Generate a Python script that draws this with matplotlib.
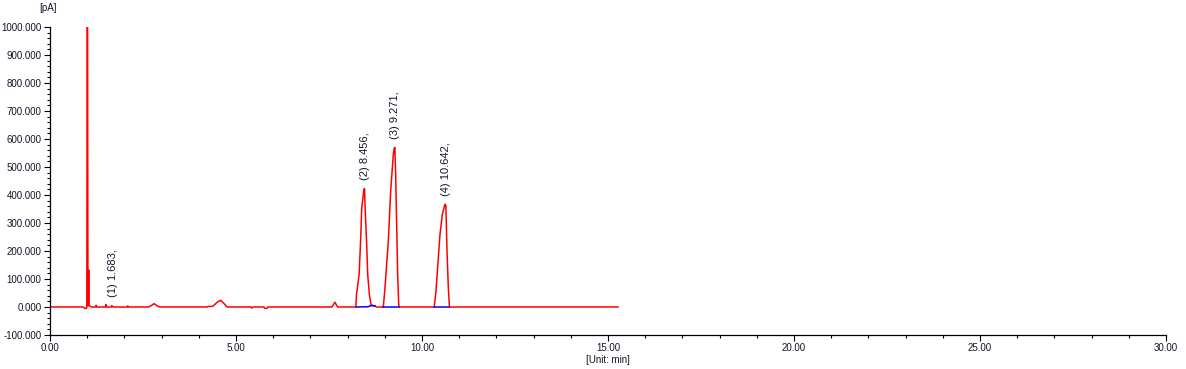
import matplotlib.pyplot as plt
from matplotlib.ticker import MultipleLocator, FormatStrFormatter

# chromatogram trace (min, pA)
time = [0.00, 0.90, 0.93, 0.98, 0.99, 1.00, 1.01, 1.02, 1.03, 1.04, 1.05, 1.08, 1.12,
        1.23, 1.24, 1.26, 1.49, 1.50, 1.52, 1.65, 1.66, 1.69, 2.08, 2.09, 2.11,
        2.65, 2.72, 2.80, 2.88, 2.95, 4.22, 4.25, 4.36, 4.40, 4.50, 4.59, 4.68, 4.76,
        5.40, 5.42, 5.45, 5.75, 5.77, 5.83, 5.85, 7.58, 7.66, 7.73,
        8.22, 8.24, 8.31, 8.35, 8.38, 8.44, 8.456, 8.47, 8.51, 8.54, 8.585, 8.63,
        8.66, 8.73, 8.78,
        8.96, 9.005, 9.095, 9.158, 9.229, 9.256, 9.271, 9.292, 9.319, 9.346, 9.373, 9.385,
        10.33, 10.376, 10.439, 10.484, 10.547, 10.618, 10.642, 10.672, 10.708, 10.735, 10.745,
        15.27]
signal = [0, 0, -5, -5, 0, 1000, 1000, 5, 5, 132, 5, 3, 0,
          0, 6, 0, 0, 9, 0, 0, 5, 0, 0, 4, 0,
          0, 5, 12, 4, 0, 0, 2, 2, 5, 18, 24, 12, 0,
          0, -4, 0, 0, -5, -5, 0, 0, 17, 0,
          0, 45, 117, 236, 355, 420, 423, 355, 236, 117, 45, 8,
          6, 4, 0,
          0, 69, 236, 414, 545, 569, 570, 474, 295, 117, 10, 0,
          0, 57, 176, 260, 331, 367, 362, 200, 69, 4, 0,
          0]

# integration baselines (blue)
base_time = [[8.23, 8.55, 8.62, 8.74], [8.96, 9.38], [10.33, 10.735]]
base_signal = [[0, 1, 5, 4], [0, 0], [0, 0]]

# labelled peaks
peak_no = [1, 2, 3, 4]
peak_time = [1.683, 8.456, 9.271, 10.642]
peak_height = [5, 423, 570, 367]

plt.rcParams['font.family'] = ['Liberation Sans', 'DejaVu Sans']
txt = '#101828'

fig = plt.figure(figsize=(11.86, 3.69), dpi=100)
ax = fig.add_axes([50 / 1186, 34 / 369, 1116 / 1186, 308 / 369])

ax.plot(time, signal, color='red', lw=1.1, zorder=2)
for bt, bs in zip(base_time, base_signal):
    ax.plot(bt, bs, color='blue', lw=1.1, zorder=3)

for n, t, h in zip(peak_no, peak_time, peak_height):
    ax.annotate(f'({n}) {t:.3f},', xy=(t, h), xytext=(0, 6), textcoords='offset points',
                rotation=90, ha='center', va='bottom', fontsize=8, color=txt)

ax.set_xlim(0, 30)
ax.set_ylim(-100, 1000)
ax.xaxis.set_major_locator(MultipleLocator(5))
ax.xaxis.set_minor_locator(MultipleLocator(1))
ax.yaxis.set_major_locator(MultipleLocator(100))
ax.yaxis.set_minor_locator(MultipleLocator(20))
ax.xaxis.set_major_formatter(FormatStrFormatter('%.2f'))
ax.yaxis.set_major_formatter(FormatStrFormatter('%.3f'))

for s in ['top', 'right']:
    ax.spines[s].set_visible(False)
for s in ['left', 'bottom']:
    ax.spines[s].set_linewidth(0.9)
    ax.spines[s].set_color('black')

ax.tick_params(which='major', length=4, width=0.8, labelsize=7, labelcolor=txt, pad=2)
ax.tick_params(which='minor', length=2.2, width=0.8)

ax.set_xlabel('[Unit: min]', fontsize=7, color=txt, labelpad=1)
fig.text(48 / 1186, 1 - 8 / 369, '[pA]', fontsize=7, color=txt, ha='center', va='center')

fig.savefig('out.png', dpi=100)
